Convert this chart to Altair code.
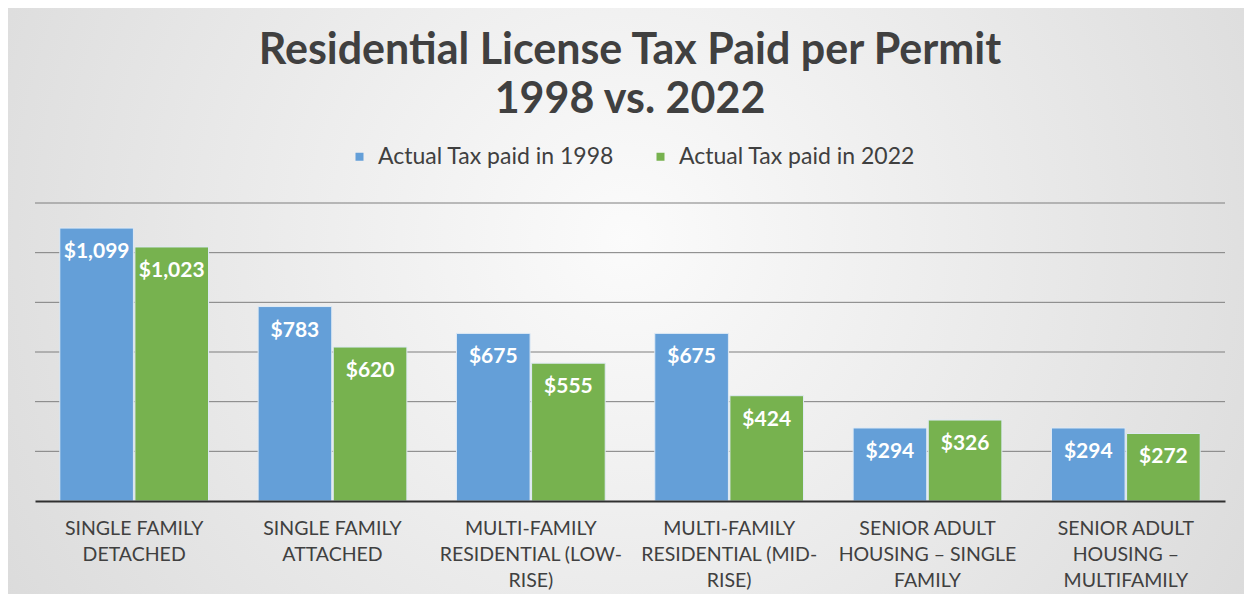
import altair as alt
import pandas as pd

categories = [
    "SINGLE FAMILY|DETACHED",
    "SINGLE FAMILY|ATTACHED",
    "MULTI-FAMILY|RESIDENTIAL (LOW-|RISE)",
    "MULTI-FAMILY|RESIDENTIAL (MID-|RISE)",
    "SENIOR ADULT|HOUSING – SINGLE|FAMILY",
    "SENIOR ADULT|HOUSING –|MULTIFAMILY",
]
series = ["Actual Tax paid in 1998", "Actual Tax paid in 2022"]
tax_1998 = [1099, 783, 675, 675, 294, 294]
tax_2022 = [1023, 620, 555, 424, 326, 272]
grid_values = [200, 400, 600, 800, 1000, 1200]

rows = []
for c, a, b in zip(categories, tax_1998, tax_2022):
    rows.append({"category": c, "series": series[0], "value": a})
    rows.append({"category": c, "series": series[1], "value": b})
df = pd.DataFrame(rows)
grid_df = pd.DataFrame({"value": grid_values})

W, H = 1190, 298
PL, PT, PR, PB = 27, 195, 19, 93

bg = alt.Chart(pd.DataFrame({"k": [0]})).mark_rect(
    color={
        "gradient": "radial",
        "x1": 0.5, "y1": 0.45, "r1": 0,
        "x2": 0.5, "y2": 0.45, "r2": 0.75,
        "stops": [
            {"offset": 0, "color": "#fbfbfb"},
            {"offset": 1, "color": "#d2d2d2"},
        ],
    }
).encode(
    x=alt.value(-PL), x2=alt.value(W + PR),
    y=alt.value(-PT), y2=alt.value(H + PB),
)

y_scale = alt.Scale(domain=[0, 1200], nice=False)

grid = alt.Chart(grid_df).mark_rule(color="#7f7f7f", strokeWidth=1).encode(
    y=alt.Y("value:Q", scale=y_scale, title=None, axis=None),
)

x_enc = alt.X(
    "category:N", sort=categories, title=None,
    scale=alt.Scale(paddingInner=0.25, paddingOuter=0.125),
    axis=alt.Axis(
        labelExpr="split(datum.label, '|')",
        labelAngle=0, labelFont="Lato", labelFontSize=19.5,
        labelColor="#404040", labelLineHeight=26, labelPadding=18,
        labelBaseline="top", labelLimit=400,
        ticks=False, domain=True, domainColor="#303030", domainWidth=2,
        grid=False, zindex=1,
    ),
)
y_enc = alt.Y("value:Q", title=None, scale=y_scale, axis=None)
color_enc = alt.Color(
    "series:N", sort=series, title=None,
    scale=alt.Scale(domain=series, range=["#649fd8", "#77b24f"]),
    legend=alt.Legend(
        orient="none", direction="horizontal", legendX=313, legendY=-58,
        symbolType="square", symbolSize=64, symbolStrokeWidth=0,
        labelFont="Lato", labelFontSize=23, labelColor="#404040",
        labelOffset=7, columnPadding=34, labelLimit=400,
    ),
)

bars = alt.Chart(df).mark_bar(stroke="#dfeaf5", strokeWidth=1).encode(
    x=x_enc,
    xOffset=alt.XOffset("series:N", sort=series, scale=alt.Scale(paddingInner=0.02)),
    y=y_enc,
    color=color_enc,
)

labels = alt.Chart(df).mark_text(
    font="Lato", fontSize=21, fontWeight="bold", color="white",
    baseline="middle", dy=24,
).encode(
    x=alt.X("category:N", sort=categories),
    xOffset=alt.XOffset("series:N", sort=series),
    y=alt.Y("value:Q"),
    text=alt.Text("value:Q", format="$,.0f"),
)

chart = alt.layer(bg, grid, bars, labels).properties(
    width=W, height=H,
    padding={"left": PL, "top": PT, "right": PR, "bottom": PB},
    autosize=alt.AutoSizeParams(type="none"),
    title=alt.TitleParams(
        text=["Residential License Tax Paid per Permit", "1998 vs. 2022"],
        font="Lato", fontSize=43, fontWeight="bold", color="#404040",
        anchor="middle", lineHeight=49, offset=-114,
    ),
    background="#ffffff",
).configure_view(stroke=None)

chart.save("out.html", embed_options={"renderer": "svg", "actions": False})
